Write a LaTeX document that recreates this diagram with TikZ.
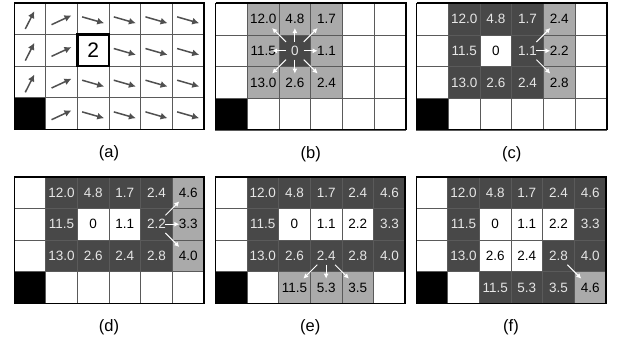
\documentclass[tikz,border=0pt]{standalone}
\usepackage{fontspec}
\setmainfont{Liberation Sans}
\usetikzlibrary{arrows.meta,calc}
\definecolor{lightcell}{RGB}{170,170,170}
\definecolor{darkcell}{RGB}{72,72,72}
\definecolor{gridline}{RGB}{90,90,90}
\definecolor{arrowgray}{RGB}{80,80,80}
\definecolor{darktext}{RGB}{230,230,230}
\tikzset{
  cellw/.style    ={draw=gridline, line width=0.7pt, fill=white,
                    minimum size=31.67pt, inner sep=0pt, outer sep=0pt,
                    font=\fontsize{13.5}{15}\selectfont},
  celll/.style    ={cellw, fill=lightcell},
  celld/.style    ={cellw, fill=darkcell, text=darktext},
  cellk/.style    ={cellw, fill=black},
  celltwo/.style  ={cellw, font=\fontsize{21}{23}\selectfont},
  panelframe/.style={line width=1pt},
  paneledge/.style={line width=1.8pt},
  boldbox/.style  ={line width=2.6pt},
  lab/.style      ={font=\fontsize{16.5}{18}\selectfont},
  garr/.style     ={-{Latex[length=7pt,width=7pt]}, line width=1.5pt, draw=arrowgray},
  warr/.style     ={-{Latex[length=5pt,width=5pt]}, line width=1pt, draw=white},
}
\def\cs{31.67}
% #1 name, #2 left, #3 top (pixels), #4 the 24 cells row by row
\newcommand{\panel}[4]{
  \foreach \s/\t [count=\i from 0] in {#4}{
    \pgfmathtruncatemacro\r{\i/6}
    \pgfmathtruncatemacro\c{mod(\i,6)}
    \node[\s] (#1-\r-\c) at (#2+\c*\cs+\cs/2, -#3-\r*\cs-\cs/2) {\t};
  }
  \draw[panelframe] (#1-0-0.north west) rectangle (#1-3-5.south east);
  \draw[paneledge] (#1-0-0.north west) -- (#1-0-5.north east) -- (#1-3-5.south east);
  \node[lab] (#1-lab) at ($(#1-3-2.south east)+(0,-24)$) {(#1)};
}
\newcommand{\flow}[2]{\draw[warr] ($(#1)!0.28!(#2)$) -- ($(#1)!0.72!(#2)$);}

\begin{document}
\begin{tikzpicture}[x=1pt,y=1pt]
  \useasboundingbox (0,0) rectangle (627,-342);

  % (a) policy
  \panel{a}{14}{2.7}{
    cellw/{}, cellw/{}, cellw/{},   cellw/{}, cellw/{}, cellw/{},
    cellw/{}, cellw/{}, celltwo/2,  cellw/{}, cellw/{}, cellw/{},
    cellw/{}, cellw/{}, cellw/{},   cellw/{}, cellw/{}, cellw/{},
    cellk/{}, cellw/{}, cellw/{},   cellw/{}, cellw/{}, cellw/{}}
  \draw[boldbox] (a-1-2.north west) rectangle (a-1-2.south east);
  \foreach \r in {0,1,2}
    \draw[garr] ([shift={(243:10)},yshift=-1.5]a-\r-0.center) -- ([shift={(63:10)},yshift=-1.5]a-\r-0.center);
  \foreach \r in {0,...,3}
    \draw[garr] ([shift={(205:11)},yshift=-1.5]a-\r-1.center) -- ([shift={(25:11)},yshift=-1.5]a-\r-1.center);
  \foreach \r/\c in {0/2,0/3,0/4,0/5,1/3,1/4,1/5,2/2,2/3,2/4,2/5,3/2,3/3,3/4,3/5}
    \draw[garr] ([shift={(164:11.5)},yshift=-1.5]a-\r-\c.center) -- ([shift={(-16:11.5)},yshift=-1.5]a-\r-\c.center);

  % (b)
  \panel{b}{215.7}{3.3}{
    cellw/{}, celll/12.0, celll/4.8, celll/1.7, cellw/{}, cellw/{},
    cellw/{}, celll/11.5, celld/0,   celll/1.1, cellw/{}, cellw/{},
    cellw/{}, celll/13.0, celll/2.6, celll/2.4, cellw/{}, cellw/{},
    cellk/{}, cellw/{},   cellw/{},  cellw/{},  cellw/{}, cellw/{}}
  \foreach \n in {0-1,0-2,0-3,1-1,1-3,2-1,2-2,2-3}{
    \flow{b-1-2}{b-\n}
  }

  % (c)
  \panel{c}{416.7}{3.3}{
    cellw/{}, celld/12.0, celld/4.8, celld/1.7, celll/2.4, cellw/{},
    cellw/{}, celld/11.5, cellw/0,   celld/1.1, celll/2.2, cellw/{},
    cellw/{}, celld/13.0, celld/2.6, celld/2.4, celll/2.8, cellw/{},
    cellk/{}, cellw/{},   cellw/{},  cellw/{},  cellw/{},  cellw/{}}
  \foreach \n in {0-4,1-4,2-4}{
    \flow{c-1-3}{c-\n}
  }

  % (d)
  \panel{d}{14}{176.7}{
    cellw/{}, celld/12.0, celld/4.8, celld/1.7, celld/2.4, celll/4.6,
    cellw/{}, celld/11.5, cellw/0,   cellw/1.1, celld/2.2, celll/3.3,
    cellw/{}, celld/13.0, celld/2.6, celld/2.4, celld/2.8, celll/4.0,
    cellk/{}, cellw/{},   cellw/{},  cellw/{},  cellw/{},  cellw/{}}
  \foreach \n in {0-5,1-5,2-5}{
    \flow{d-1-4}{d-\n}
  }

  % (e)
  \panel{e}{215.3}{176.7}{
    cellw/{}, celld/12.0, celld/4.8,  celld/1.7, celld/2.4, celld/4.6,
    cellw/{}, celld/11.5, cellw/0,    cellw/1.1, cellw/2.2, celld/3.3,
    cellw/{}, celld/13.0, celld/2.6,  celld/2.4, celld/2.8, celld/4.0,
    cellk/{}, cellw/{},   celll/11.5, celll/5.3, celll/3.5, cellw/{}}
  \foreach \n in {3-2,3-3,3-4}{
    \flow{e-2-3}{e-\n}
  }

  % (f)
  \panel{f}{416}{176.7}{
    cellw/{}, celld/12.0, celld/4.8,  celld/1.7, celld/2.4, celld/4.6,
    cellw/{}, celld/11.5, cellw/0,    cellw/1.1, cellw/2.2, celld/3.3,
    cellw/{}, celld/13.0, cellw/2.6,  cellw/2.4, celld/2.8, celld/4.0,
    cellk/{}, cellw/{},   celld/11.5, celld/5.3, celld/3.5, celll/4.6}
  \flow{f-2-4}{f-3-5}
\end{tikzpicture}
\end{document}
